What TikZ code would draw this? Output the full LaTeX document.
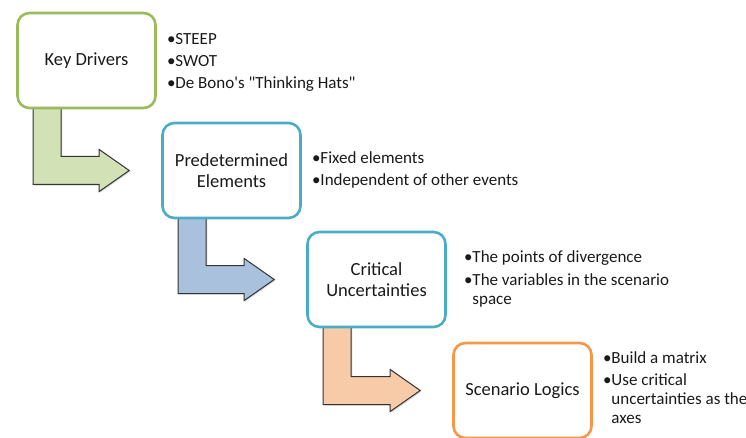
\documentclass[tikz,border=0pt]{standalone}
\usepackage{fontspec}
\setmainfont{Carlito}
\usetikzlibrary{positioning,calc,shadows,backgrounds}

\definecolor{kdgreen}{HTML}{9BBB59}
\definecolor{peblue}{HTML}{4BACC6}
\definecolor{slorange}{HTML}{F79646}
\definecolor{arrgreen}{HTML}{D3E1B7}
\definecolor{arrblue}{HTML}{AAC1DE}
\definecolor{arrtan}{HTML}{F7CBA8}
\definecolor{txt}{HTML}{1A1A1A}

\tikzset{
	stagebox/.style={draw, line width=2.6pt, rounded corners=12pt, fill=white,
		minimum width=138pt, minimum height=95pt, align=center, inner sep=2pt,
		font=\fontsize{18.5}{21}\selectfont, text=txt},
	notes/.style={anchor=west, align=left, inner sep=0pt,
		font=\fontsize{17}{19}\selectfont, text=txt},
	bentarrow/.style={draw=black!80, line width=1pt, line join=miter,
		drop shadow={opacity=0.3, shadow xshift=1.2pt, shadow yshift=-1.2pt}}
}

% bent arrow from the bottom of one stage to the left of the next
\newcommand{\stagearrow}[3]{%
	\draw[bentarrow, fill=#3]
		let \p1 = ($(#1.south west)+(17,-3)$), \p2 = ($(#2.west)+(-32,0)$) in
		(\x1,\y1) -- (\x1,\y2-14pt) -- (\x2-30pt,\y2-14pt) -- (\x2-30pt,\y2-21pt)
		-- (\p2) -- (\x2-30pt,\y2+21pt) -- (\x2-30pt,\y2+14pt)
		-- (\x1+28pt,\y2+14pt) -- (\x1+28pt,\y1) -- cycle;}
\newcommand{\bl}{•}
\newcommand{\hang}{\phantom{•}}

\begin{document}
\begin{tikzpicture}[x=1pt, y=-1pt]
		\useasboundingbox (0,0) rectangle (746,438);

		% Draw the stages
		\node[stagebox, draw=kdgreen] (kd) at (86.5,60.5) {Key Drivers};
		\node[stagebox, draw=peblue] (pe) at (231.5,170.5) {Predetermined\\Elements};
		\node[stagebox, draw=peblue] (cu) at (376.5,279.5) {Critical\\Uncertainties};
		\node[stagebox, draw=slorange] (sl) at (522.5,390.5) {Scenario Logics};

		% Notes beside each stage
		\node[notes] (kdn) at ($(kd.east)+(10,2)$) {\bl STEEP\\[3pt]\bl SWOT\\[3pt]\bl De Bono\textquotesingle s \textquotedbl Thinking Hats\textquotedbl};
		\node[notes] (pen) at ($(pe.east)+(10,-1)$) {\bl Fixed elements\\[3pt]\bl Independent of other events};
		\node[notes] (cun) at ($(cu.east)+(17,-1)$) {\bl The points of divergence\\[4pt]\bl The variables in the scenario\\\hang space};
		\node[notes] (sln) at ($(sl.east)+(10,-3)$) {\bl Build a matrix\\[3pt]\bl Use critical\\\hang uncertainties as the\\\hang axes};

		% Arrows between the stages
		\begin{scope}[on background layer]
			\foreach \a/\b/\c in {kd/pe/arrgreen, pe/cu/arrblue, cu/sl/arrtan}
				\stagearrow{\a}{\b}{\c};
		\end{scope}
	\end{tikzpicture}
\end{document}
